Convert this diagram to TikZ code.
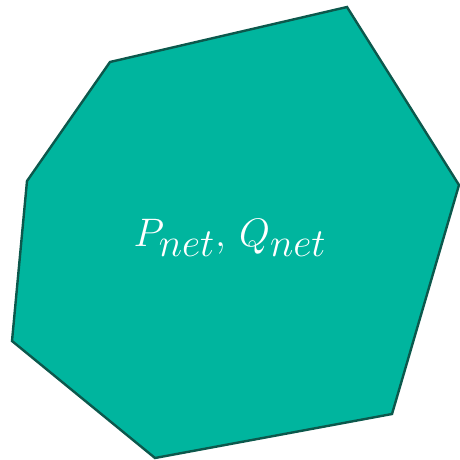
\documentclass[tikz,border=0pt]{standalone}
\definecolor{polyfill}{RGB}{0,181,158}
\definecolor{polyedge}{RGB}{12,88,76}
\begin{document}
\begin{tikzpicture}[x=1pt,y=-1pt,
  region/.style={fill=polyfill,draw=polyedge,line width=2.4pt,line join=miter},
  lbl/.style={text=white,font=\fontsize{36}{42}\selectfont,inner sep=0pt,scale=1.6}]
\useasboundingbox (0,0) rectangle (459,460);
\draw[region] (110,62) -- (347,7) -- (459,185) -- (392,414) -- (155,458) -- (12,341) -- (27,181) -- cycle;
\node[lbl] (label) at (230,238) {$P_{net},\,Q_{net}$};
\end{tikzpicture}
\end{document}
